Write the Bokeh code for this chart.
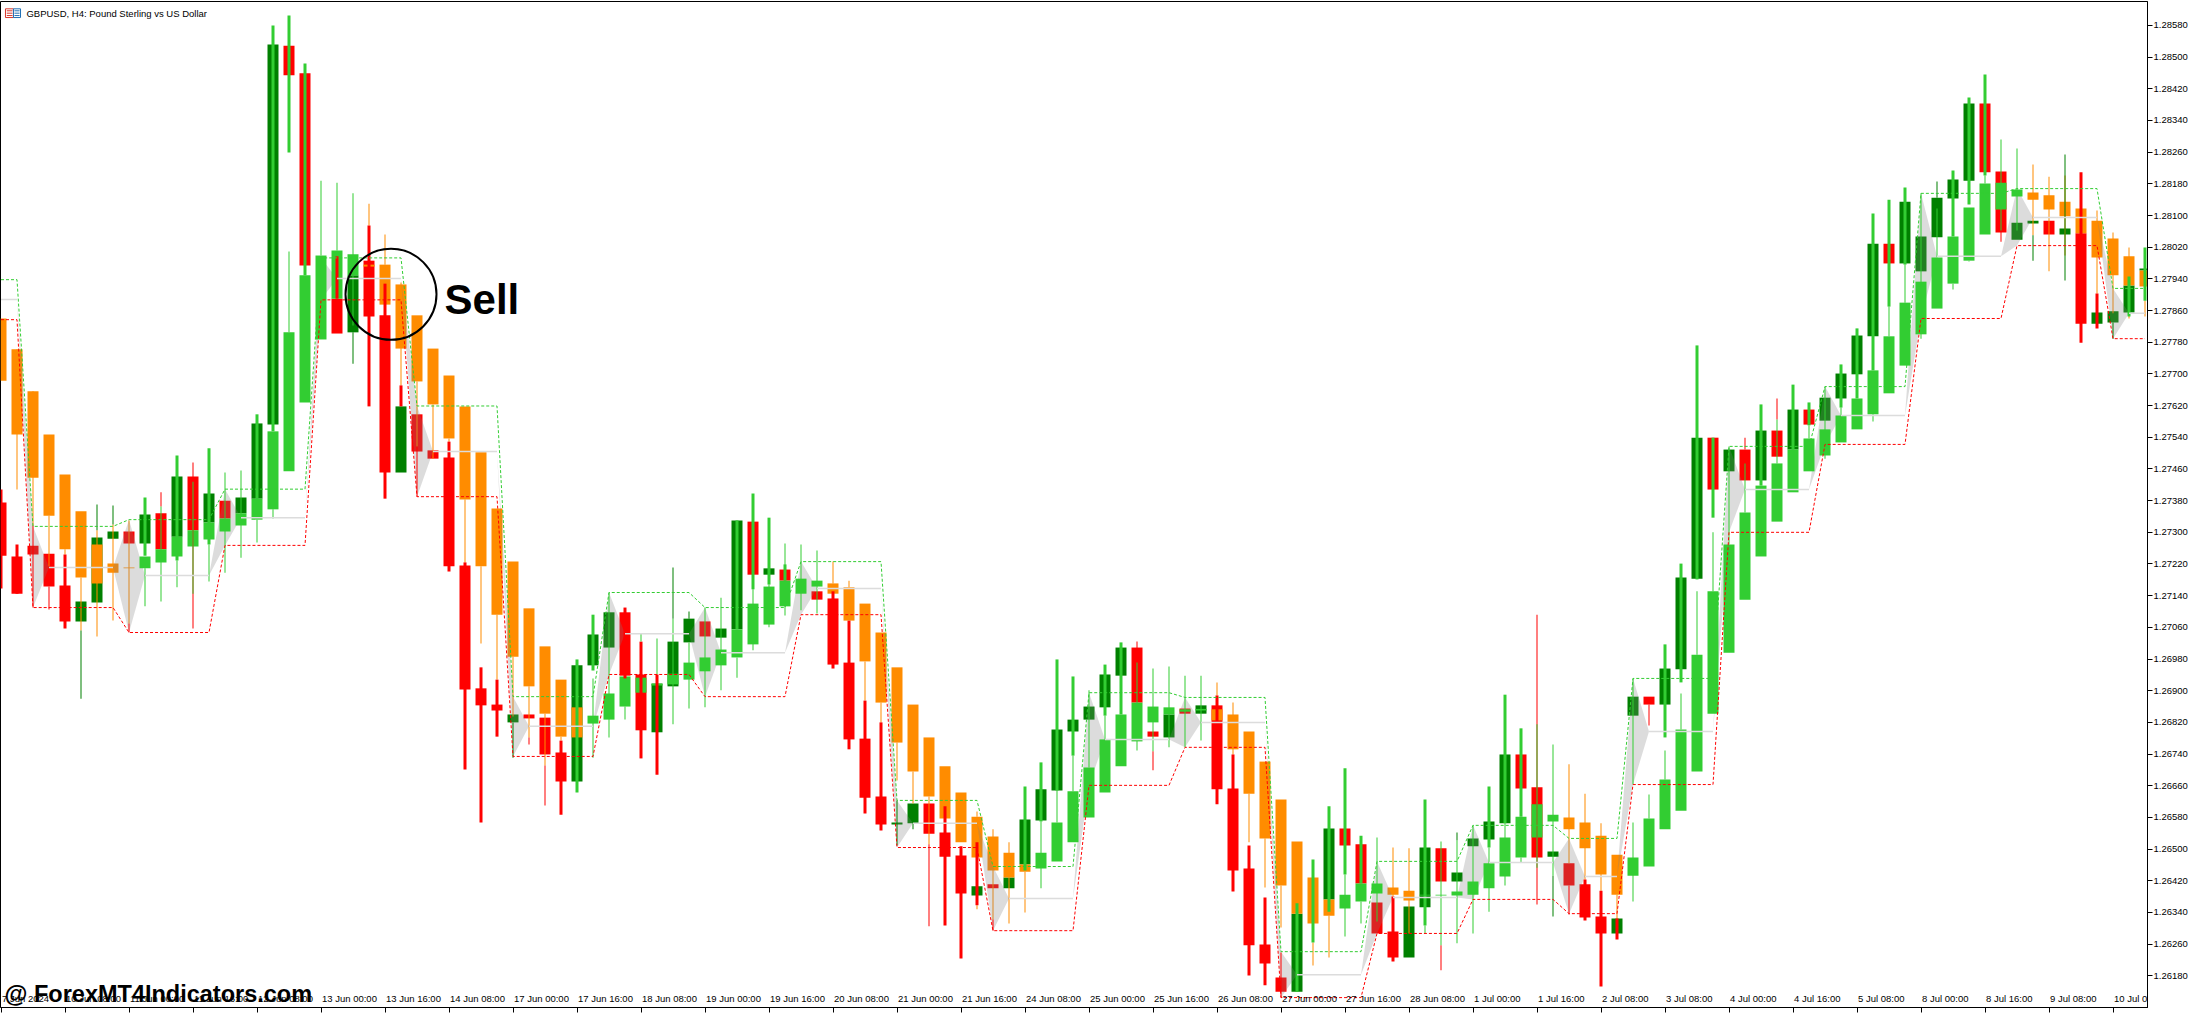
from bokeh.embed import file_html
from bokeh.resources import INLINE
from bokeh.plotting import figure
from bokeh.models import (ColumnDataSource, FixedTicker, LinearAxis, Range1d, NumeralTickFormatter,
                          GlobalInlineStyleSheet, Label)
from bokeh.core.properties import value

# all prices are in points: 127375 means 1.27375
POINT = 1e-5
COL = {"r": "#FF0000", "d": "#008000", "l": "#32CD32", "o": "#FF8C00"}

a_top = [127375,127239,127266,127246,127166,127125,127287,127302,127302,127345,
 127348,127441,127441,127398,127380,127388,127575,128532,128529,128459,
 None,127890,127949,127986,127848,127618,127598,127507,127489,127216,
 126906,126865,126840,126840,126832,126744,126964,127042,127098,127098,
 126941,126918,127024,127082,127075,127057,127330,127327,127209,127206,
 None,127151,127133,126971,126779,126633,126567,126615,126615,126542,
 126484,126406,126411,126428,126575,126651,126802,126827,126860,126941,
 127009,127009,126797,126840,126855,126863,126863,126653,126451,126259,
 126176,126337,None,126552,126552,126512,126365,126292,126355,126504,
 126502,126441,126527,126570,126739,126739,126656,126494,126464,126411,
 126330,126325,126885,126885,126956,127186,127539,127539,127509,127509,
 127557,127557,127610,127610,127640,127701,127797,128029,128029,128135,
 128047,128145,128191,128383,128383,128211,128082,128087,128087,128067,
 128055,127855,127858,127923,127966]
a_bot = [127241,127145,127244,127163,127075,127075,127123,127284,127272,127272,
 127257,127289,127305,127325,127335,127348,127385,127572,128454,127974,
 None,127802,127805,127845,127451,127451,127504,127486,127214,126903,
 126863,126850,126820,126830,126739,126671,126671,126964,127009,126938,
 126800,126795,126911,127022,127037,127034,127055,127193,127193,127178,
 None,127130,126966,126777,126630,126562,126562,126565,126539,126481,
 126388,126383,126401,126401,126461,126572,126648,126797,126827,126858,
 126938,126870,126784,126782,126842,126842,126651,126446,126257,126211,
 126140,126140,None,126373,126509,126413,126287,126226,126226,126353,
 126418,126418,126507,126524,126565,126653,126479,126481,126408,126327,
 126287,126287,126837,126865,126865,126954,127183,127408,127454,127431,
 127431,127491,127509,127572,127582,127638,127699,127795,127979,127979,
 127959,128045,128143,128188,128209,128057,128039,128080,128052,128052,
 127827,127827,127830,127855,127961]
a_kind = ("rrrrrdddrd" "rdrdrdddrr" ".rdrrdrrrr" "rrdrrrdddr" "rdddrddrdr" ".rrrrrddrr" "rdrddddddd"
          "drrdrdrrrr" "rd.drrrrdd" "rddddrrdrr" "rddrdddrdr" "drdrddddrd" "ddddrrddrd" "rdddd")

b_top = [127840,127762,127656,127547,127446,127353,127269,127221,127211,127239,
 127257,127289,127305,127325,127335,127348,127385,127555,127805,127949,
 127999,128012,128002,127976,127976,127926,127848,127764,127696,127618,
 127502,127360,127226,127108,127012,126928,126858,126837,126893,126936,
 126933,126918,126943,126971,126984,127004,127055,127120,127163,127178,
 127183,127178,127171,127161,127120,127047,126959,126865,126782,126709,
 126643,126582,126532,126491,126461,126491,126567,126646,126706,126777,
 126840,126870,126860,126858,126853,126854,126853,126840,126797,126721,
 126625,126519,126428,126373,126385,126413,126413,126403,126395,126385,
 126385,126393,126418,126464,126529,126582,126613,126587,126580,126567,
 126534,126486,126479,126577,126676,126802,126991,127151,127269,127350,
 127418,127474,127509,127537,127560,127595,127638,127709,127795,127880,
 127933,127994,128047,128120,128181,128183,128166,128158,128151,128135,
 128118,128087,128042,127997,127961]
b_bot = [127683,127547,127438,127342,127257,127186,127171,127198,127209,127209,
 127224,127239,127264,127282,127302,127317,127332,127358,127454,127628,
 127787,127890,127949,127971,127875,127764,127681,127623,127537,127383,
 127214,127092,126986,126911,126842,126784,126782,126817,126827,126860,
 126895,126913,126916,126928,126949,126964,126984,127017,127067,127113,
 127145,127163,127145,127077,126974,126870,126769,126696,126633,126577,
 126517,126479,126446,126428,126443,126451,126469,126517,126580,126643,
 126709,126772,126820,126840,126847,126850,126825,126752,126640,126527,
 126408,126337,126312,126332,126350,126368,126388,126385,126370,126383,
 126383,126383,126385,126401,126431,126479,126529,126570,126550,126502,
 126436,126385,126433,126456,126550,126597,126696,126842,126996,127130,
 127239,127327,127401,127454,127494,127527,127560,127598,127651,127721,
 127800,127865,127928,127986,128052,128115,128148,128140,128115,128098,
 128055,127994,127949,127923,127921]
b_kind = ("oooooooool" "llllllllll" "lllooooooo" "ooooooolll" "llllllllll" "lloooooooo" "ooooolllll"
          "lllllloooo" "oooolllool" "lllllllloo" "oollllllll" "llllllllll" "lllllllooo" "ooooo")

thick_bar = [0,1,4,9,11,13,16,17,18,19,21,23,24,25,28,29,30,31,35,36,37,39,40,41,46,47,48,49,52,53,54,55,
 59,60,61,64,65,66,67,69,70,76,77,78,79,81,82,83,84,85,87,89,93,94,95,99,100,101,104,105,106,107,110,112,
 113,115,116,117,118,119,122,123,124,130,131,133,134]
thick_kind = ("rrrlllllll" "rrrrrrrrr" "ll" "rrr" "llll" "rrrrrrr" "llllll" "rrrr" "lllll" "r" "llll" "rrr"
              "lllllllllllllll" "rr" "ll")
thick_top = [127408,127269,127244,127388,127494,127512,127598,128580,128605,128484,127997,128075,127928,127671,
 127529,127224,126959,126928,126774,126979,127092,127110,127024,126941,127330,127398,127337,127219,127151,
 127077,126875,126820,126608,126507,126517,126658,126719,126979,126936,126966,127022,126888,126739,126509,
 126378,126363,126474,126608,126704,126534,126380,126625,126658,126890,126805,126423,126395,126325,127017,
 127221,127772,127539,127623,127673,127628,127724,127815,128105,128140,128171,128214,128398,128456,128209,
 127903,127946,128019]
thick_bot = [127158,127145,127057,127241,127229,127269,127385,127555,128259,127949,127890,127618,127385,127618,
 127201,126701,126567,126784,126587,126643,126951,126931,126729,126688,127055,127156,127168,127178,126956,
 126752,126590,126547,126307,126224,126358,126446,126570,126648,126736,126837,126840,126613,126393,126181,
 126156,126140,126264,126342,126436,126413,126216,126307,126504,126565,126582,126320,126153,126272,126782,
 126921,127181,127337,127418,127509,127570,127615,127638,127709,127870,127976,128047,128128,128201,127779,
 127815,127845,127885]

thin_bar = [1,2,2,3,3,4,5,5,6,6,7,7,8,8,9,10,10,11,12,12,13,14,15,16,17,18,20,21,22,22,23,24,25,26,26,27,28,29,
 30,31,32,32,33,33,34,34,35,37,38,39,40,41,42,42,43,43,44,45,46,47,48,49,50,51,52,53,54,55,56,56,57,57,58,58,
 61,61,62,62,63,64,65,66,67,68,69,71,71,72,72,73,74,75,76,77,78,79,80,80,82,83,84,85,86,87,88,89,90,90,91,91,
 92,93,94,95,96,96,97,97,98,98,99,100,101,102,102,103,103,104,105,106,107,108,109,109,111,111,113,114,115,117,
 118,119,120,121,121,122,123,124,125,125,126,127,127,128,129,129,131,132,132,133,134]
thin_kind = ("o" "or" "or" "o" "do" "do" "do" "ro" "l" "rl" "l" "rl" "llllll" "ll" "dl" "ooo" "ro" "ooooo" "do" "ro"
 "ro" "o" "lllll" "dl" "dl" "llllllll" "oooo" "do" "do" "ro" "oo" "ro" "oo" "lllll" "rl" "rl" "lll" "oooo" "ro"
 "oo" "lll" "oo" "l" "rl" "dl" "llll" "rl" "dl" "ro" "ooo" "ll" "rl" "lllll" "rl" "rl" "lll" "llll" "dl" "lll"
 "rl" "l" "do" "o" "do" "o" "do" "o" "o")
thin_top = [127762,127656,127317,127342,127163,127257,127052,127186,127370,127305,127368,127320,127070,127330,
 127209,127401,127365,127229,127476,127428,127269,127451,127456,127332,127358,128009,128188,128183,127805,
 128156,128130,128052,127931,127517,127681,127623,127537,127383,127214,127092,126820,126986,126782,126911,
 126711,126842,126784,126931,127148,126860,127045,127032,127211,127082,127100,127022,127110,127135,126984,
 127156,127168,127272,127269,127254,127226,127178,126974,126870,126623,126769,126565,126696,126512,126633,
 126595,126358,126322,126550,126517,126443,126570,126648,126736,126901,126837,127024,126971,126747,126956,
 126961,126938,126938,126921,126870,126640,126527,126239,126408,126264,126332,126436,126368,126529,126504,
 126502,126307,126257,126519,126542,126522,126560,126504,126565,126479,127092,126815,126433,126764,126408,
 126714,126640,126565,126385,126931,126567,126865,126638,126749,126893,127151,127300,127517,127539,127474,
 127638,127585,127570,127668,127615,127598,127870,127976,128156,128186,128118,127928,127986,128201,128062,
 128292,128269,128050,128229,128198,128254,128201,128113,127830,128057,128019,127885]
thin_bot = [127408,127317,127110,127214,127105,127244,126880,127052,127305,127037,127320,127077,127047,127070,
 127113,127365,127125,127161,127057,127145,127176,127198,127236,127274,127335,127805,127999,128012,127726,
 127822,128075,127976,127671,127390,127517,127486,127529,127224,127019,126928,126731,126835,126764,126782,
 126610,126711,126774,126731,126782,126827,127024,126941,127082,126815,127082,126855,126858,126901,126933,
 127002,127060,127090,127103,127095,127171,127161,126875,126820,126509,126673,126550,126615,126305,126512,
 126582,126348,126294,126322,126312,126340,126401,126567,126646,126706,126777,126971,126749,126699,126747,
 126757,126757,126774,126888,126739,126517,126403,126125,126302,126206,126226,126279,126312,126317,126380,
 126287,126287,126194,126257,126522,126262,126287,126342,126408,126466,126360,126453,126330,126433,126335,
 126464,126423,126395,126320,126663,126368,126812,126577,126676,126802,126991,127151,127269,127509,127350,
 127585,127474,127537,127486,127595,127580,127795,127880,127789,128145,127994,127913,127984,128181,128034,
 128062,128062,127986,128050,127959,127936,127999,127903,127789,127853,127840,127845]

level_start = [0,2,8,14,20,26,32,38,44,50,56,62,68,74,80,86,92,98,102,108,114,120,126,132]
level_upper = [127938,127315,127332,127409,127993,127619,126885,127148,127110,127226,126623,126456,126895,126883,
 126241,126469,126560,126527,126931,127517,127668,128156,128168,127916]
level_mid = [127888,127211,127191,127337,127941,127504,126810,127044,126996,127158,126565,126375,126777,126820,
 126183,126378,126466,126431,126797,127408,127595,127997,128095,127853]
level_lower = [127837,127110,127047,127267,127887,127390,126734,126941,126885,127092,126504,126294,126661,126757,
 126125,126287,126373,126337,126663,127300,127522,127840,128024,127789]
LAST_BAR = 134

price_ticks = [1.2618 + 0.0008 * i for i in range(31)]
time_labels = ["7 Jun 2024","10 Jun 08:00","11 Jun 00:00","11 Jun 16:00","12 Jun 08:00","13 Jun 00:00","13 Jun 16:00",
 "14 Jun 08:00","17 Jun 00:00","17 Jun 16:00","18 Jun 08:00","19 Jun 00:00","19 Jun 16:00","20 Jun 08:00",
 "21 Jun 00:00","21 Jun 16:00","24 Jun 08:00","25 Jun 00:00","25 Jun 16:00","26 Jun 08:00","27 Jun 00:00",
 "27 Jun 16:00","28 Jun 08:00","1 Jul 00:00","1 Jul 16:00","2 Jul 08:00","3 Jul 08:00","4 Jul 00:00",
 "4 Jul 16:00","5 Jul 08:00","8 Jul 00:00","8 Jul 16:00","9 Jul 08:00","10 Jul 00:00"]
time_ticks = [i * 4 for i in range(len(time_labels))]

AXIS_FONT = "Liberation Sans"

p = figure(width=2191, height=1025, output_backend="svg", toolbar_location=None,
           x_range=Range1d(-0.03125, 134.156), y_range=Range1d(1.26100, 1.286405),
           x_axis_type=None, y_axis_type=None, min_border_left=0, min_border_right=44,
           min_border_top=1, min_border_bottom=18, background_fill_color="white",
           border_fill_color="white", outline_line_color="black", outline_line_width=1)
p.grid.visible = False
p.stylesheets = [GlobalInlineStyleSheet(css="html,body{margin:0;padding:0;overflow:hidden}")]

right = LinearAxis(ticker=FixedTicker(ticks=price_ticks), formatter=NumeralTickFormatter(format="0.00000"),
                   major_tick_in=0, major_tick_out=5, minor_tick_line_color=None, axis_line_color="black",
                   major_tick_line_color="black", major_label_standoff=1,
                   major_label_text_font=AXIS_FONT, major_label_text_font_size="9.5px", major_label_text_color="black")
p.add_layout(right, "right")
bottom = LinearAxis(ticker=FixedTicker(ticks=time_ticks),
                    major_label_overrides={t: "" for t in time_ticks},
                    major_tick_in=0, major_tick_out=5, minor_tick_line_color=None, axis_line_color="black",
                    major_tick_line_color="black", major_label_standoff=0,
                    major_label_text_font_size="1px")
p.add_layout(bottom, "below")
# tick labels start just right of their tick, as in the reference
for t, s in zip(time_ticks, time_labels):
    p.add_layout(Label(x=t, y=9, y_units="screen", x_offset=1, text=s, text_font=AXIS_FONT,
                       text_font_size="9.5px", text_color="black", text_baseline="middle", text_align="left"))


def bars(x, top, bot, kind, width, only=None):
    rows = [(xx, t, b, COL[k]) for xx, t, b, k in zip(x, top, bot, kind)
            if t is not None and (only is None or k in only)]
    src = ColumnDataSource(dict(x=[r[0] for r in rows], top=[r[1] * POINT for r in rows],
                                bottom=[r[2] * POINT for r in rows], color=[r[3] for r in rows]))
    p.vbar(x="x", top="top", bottom="bottom", width=width, fill_color="color", line_color=None, source=src)


all_bars = list(range(LAST_BAR + 1))
PX = 1 / 16
bars(all_bars, a_top, a_bot, a_kind, 11 * PX)
bars(all_bars, b_top, b_bot, b_kind, 11 * PX, only="o")
bars(thin_bar, thin_top, thin_bot, thin_kind, 1 * PX, only="o")

# grey diamonds between one level set and the next
xs, ys = [], []
for i in range(1, len(level_start)):
    s = level_start[i]
    xs.append([s - 1, s, s + 1, s])
    ys.append([level_mid[i - 1] * POINT, level_upper[i] * POINT, level_mid[i] * POINT, level_lower[i] * POINT])
p.patches(xs, ys, fill_color="#7F7F7F", fill_alpha=0.275, line_color=None)

bars(all_bars, b_top, b_bot, b_kind, 11 * PX, only="l")
bars(thick_bar, thick_top, thick_bot, thick_kind, 3 * PX)
bars(thin_bar, thin_top, thin_bot, thin_kind, 1 * PX, only="rdl")


def level_line(vals, color):
    lx, ly = [], []
    for i, s in enumerate(level_start):
        end = level_start[i + 1] - 1 if i + 1 < len(level_start) else LAST_BAR
        lx += [s, end]
        ly += [vals[i] * POINT, vals[i] * POINT]
    p.line(lx, ly, line_color=color, line_width=1, line_dash="3 2")


for i, s in enumerate(level_start):
    end = level_start[i + 1] - 1 if i + 1 < len(level_start) else LAST_BAR
    p.line([s + 1 if i else s, end], [level_mid[i] * POINT] * 2, line_color="#DCDCDC", line_width=1.5)
level_line(level_upper, "#32CD32")
level_line(level_lower, "#FF0000")

# annotations
p.scatter([24.375], [1.27901], marker="circle", size=91, fill_color=None, line_color="black", line_width=2)
p.text([27.72], [1.27888], text=["Sell"], text_font=value("Liberation Sans"), text_font_style="bold",
       text_font_size="42px", text_color="black", text_baseline="middle", text_align="left")
p.text([0.22], [1.26133], text=["@ ForexMT4Indicators.com"], text_font=value("Liberation Sans"),
       text_font_style="bold", text_font_size="23.5px", text_color="black", text_baseline="middle", text_align="left")
p.text([1.59], [1.28611], text=["GBPUSD, H4:  Pound Sterling vs US Dollar"], text_font=value("Liberation Sans"),
       text_font_size="9.5px", text_color="black", text_baseline="middle", text_align="left")
# chart window icon
p.quad(left=[0.28, 0.78], right=[0.78, 1.22], top=[1.28622, 1.28622], bottom=[1.28600, 1.28600],
       fill_color="white", line_color=["#D9362B", "#1F6FB5"], line_width=1)
p.segment(x0=[0.36, 0.36, 0.36, 0.84, 0.84, 0.84], x1=[0.72, 0.72, 0.72, 1.16, 1.16, 1.16],
          y0=[1.28617, 1.28611, 1.28605] * 2, y1=[1.28617, 1.28611, 1.28605] * 2,
          line_color=["#D9362B"] * 3 + ["#1F6FB5"] * 3, line_width=1)

open("out.html", "w").write(file_html(p, INLINE))
